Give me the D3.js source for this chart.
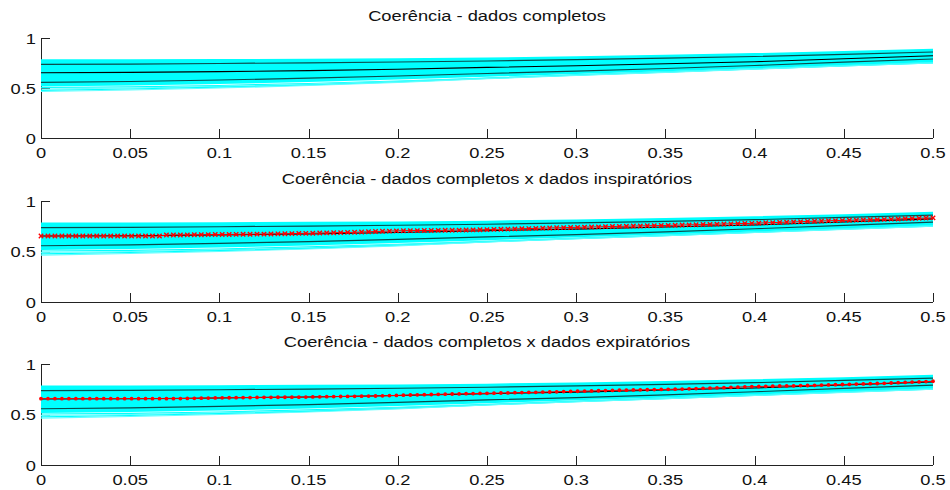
<!DOCTYPE html>
<html>
<head>
<meta charset="utf-8">
<script src="https://cdn.jsdelivr.net/npm/d3@7"></script>
<style>
  html, body { margin: 0; padding: 0; background: #fff; }
  text { font-family: "Liberation Sans", Arial, Helvetica, sans-serif; fill: #111; }
</style>
</head>
<body>
<svg id="chart" width="950" height="490"></svg>
<script>
// Frequency grid for the coarse reference curves (0 to 0.5, step 0.05)
const freqCoarse = [0, 0.05, 0.1, 0.15, 0.2, 0.25, 0.3, 0.35, 0.4, 0.45, 0.5];

// Surrogate coherence spread (cyan band): upper and lower envelope
const surrogateTop    = [0.780, 0.780, 0.782, 0.786, 0.790, 0.798, 0.810, 0.825, 0.842, 0.862, 0.885];
const surrogateBottom = [0.515, 0.525, 0.540, 0.560, 0.585, 0.612, 0.640, 0.668, 0.698, 0.728, 0.758];
// Individual low-lying surrogate curves
const surrogateLow1 = [0.505, 0.512, 0.525, 0.545, 0.570, 0.600, 0.632, 0.662, 0.694, 0.726, 0.756];
const surrogateLow2 = [0.490, 0.500, 0.516, 0.537, 0.565, 0.598, 0.630, 0.660, 0.692, 0.724, 0.754];
const surrogateLow3 = [0.476, 0.490, 0.508, 0.530, 0.560, 0.596, 0.628, 0.658, 0.690, 0.722, 0.752];
const surrogateLow4 = [0.465, 0.480, 0.500, 0.525, 0.556, 0.594, 0.626, 0.656, 0.688, 0.720, 0.750];

// Surrogate statistics (black lines): mean and mean ± one standard deviation
const statUpper  = [0.737, 0.739, 0.745, 0.752, 0.760, 0.770, 0.783, 0.798, 0.815, 0.837, 0.860];
const statMean   = [0.653, 0.656, 0.664, 0.674, 0.688, 0.706, 0.722, 0.742, 0.763, 0.792, 0.823];
const statLower  = [0.557, 0.565, 0.580, 0.598, 0.620, 0.645, 0.668, 0.695, 0.725, 0.758, 0.790];

// Coherence of the phase-specific data, 129 frequency bins (step 1/256)
const cohInspiratory = [
  0.653,0.653,0.653,0.653,0.653,0.653,0.653,0.653,0.653,0.653,0.653,0.653,0.653,0.653,0.653,0.653,0.653,0.653,
  0.663,0.664,0.664,0.665,0.666,0.666,0.667,0.668,
  0.669,0.669,0.670,0.671,0.671,0.672,0.672,0.673,
  0.675,0.676,0.677,0.679,0.680,
  0.681,0.683,0.684,0.686,0.687,0.689,0.690,
  0.693,0.695,0.698,0.700,
  0.702,0.704,0.706,
  0.707,0.707,0.708,0.708,0.709,
  0.710,0.711,0.712,0.713,0.714,0.715,0.717,
  0.719,0.720,0.722,0.724,0.726,0.727,0.729,0.731,0.733,
  0.735,0.736,0.738,0.739,0.741,0.743,0.744,0.746,0.747,0.749,
  0.750,0.752,0.753,0.755,0.756,0.757,0.759,0.760,0.762,
  0.764,0.765,0.767,0.769,0.771,0.772,0.774,0.776,0.777,0.779,
  0.781,0.784,0.786,0.788,0.791,0.793,0.795,0.798,0.800,
  0.802,0.804,0.806,0.808,0.809,0.811,0.813,0.815,0.816,0.818,
  0.820,0.822,0.825,0.827,0.829,0.831,0.833
];
const cohExpiratory = [
  0.657,0.657,0.657,0.657,0.657,0.657,0.657,0.657,0.657,0.657,0.657,0.657,0.657,0.657,0.657,0.657,0.657,0.657,0.657,0.657,
  0.658,0.659,0.660,0.662,0.663,0.664,0.665,0.666,0.667,
  0.668,0.668,0.669,0.670,0.670,0.671,0.671,0.672,0.672,0.673,
  0.674,0.675,0.676,0.677,0.678,0.679,0.680,0.681,0.682,0.683,
  0.685,0.687,0.689,0.691,0.693,0.695,0.696,0.698,0.700,
  0.701,0.703,0.704,0.706,0.707,0.709,0.710,
  0.711,0.713,0.714,0.716,0.717,0.719,0.720,0.722,0.723,
  0.725,0.727,0.728,0.730,0.732,0.733,0.735,0.737,0.738,0.740,
  0.741,0.743,0.744,0.745,0.747,0.748,0.749,0.751,0.752,
  0.754,0.757,0.759,0.762,0.764,0.766,0.769,0.771,0.774,0.776,
  0.777,0.779,0.780,0.782,0.783,0.784,0.786,0.787,0.789,
  0.791,0.793,0.795,0.797,0.799,0.801,0.803,0.805,0.807,0.809,
  0.812,0.815,0.818,0.821,0.823,0.826,0.829
];

// Panel titles
const panelTitles = [
  "Coerência - dados completos",
  "Coerência - dados completos x dados inspiratórios",
  "Coerência - dados completos x dados expiratórios"
];

// Tick values and labels
const xTickValues = [0, 0.05, 0.1, 0.15, 0.2, 0.25, 0.3, 0.35, 0.4, 0.45, 0.5];
const xTickLabels = ["0", "0.05", "0.1", "0.15", "0.2", "0.25", "0.3", "0.35", "0.4", "0.45", "0.5"];
const yTickValues = [0, 0.5, 1];
const yTickLabels = ["0", "0.5", "1"];

// ---------- layout ----------
const svg = d3.select("#chart");
const panelBoxes = [
  { top: 38, bottom: 138 },
  { top: 201, bottom: 302 },
  { top: 364, bottom: 465 }
];
const xLeft = 41, xRight = 933;
const tickLen = 9;
const fontSize = 15.5, stretch = 1.18;

const x = d3.scaleLinear().domain([0, 0.5]).range([xLeft, xRight]);
const freqFine = d3.range(cohInspiratory.length).map(i => i / 256);

const panelData = [
  { red: null, marker: null },
  { red: cohInspiratory, marker: "x" },
  { red: cohExpiratory, marker: "dot" }
];

function stretchedText(g, tx, ty, str, anchor, size) {
  g.append("text")
    .attr("transform", `translate(${tx},${ty}) scale(${stretch},1)`)
    .attr("text-anchor", anchor)
    .style("font-size", (size || fontSize) + "px")
    .text(str);
}

panelBoxes.forEach((box, p) => {
  const y = d3.scaleLinear().domain([0, 1]).range([box.bottom, box.top]);
  const g = svg.append("g");

  // axes (drawn beneath the data)
  const axisCol = "#222";
  g.append("line").attr("x1", xLeft).attr("x2", xRight)
    .attr("y1", box.bottom + 0.5).attr("y2", box.bottom + 0.5)
    .attr("stroke", axisCol).attr("stroke-width", 1);
  g.append("line").attr("x1", xLeft + 0.5).attr("x2", xLeft + 0.5)
    .attr("y1", box.top).attr("y2", box.bottom)
    .attr("stroke", axisCol).attr("stroke-width", 1);

  xTickValues.forEach((v, i) => {
    const px = Math.round(x(v)) + 0.5;
    g.append("line").attr("x1", px).attr("x2", px)
      .attr("y1", box.bottom).attr("y2", box.bottom - tickLen)
      .attr("stroke", axisCol).attr("stroke-width", 1);
    stretchedText(g, x(v), box.bottom + 20, xTickLabels[i], "middle");
  });
  yTickValues.forEach((v, i) => {
    const py = Math.round(y(v)) + 0.5;
    g.append("line").attr("x1", xLeft).attr("x2", xLeft + tickLen)
      .attr("y1", py).attr("y2", py)
      .attr("stroke", axisCol).attr("stroke-width", 1);
    stretchedText(g, 36, y(v) + 5.5, yTickLabels[i], "end");
  });

  // surrogate band
  const area = d3.area()
    .x((d, i) => x(freqCoarse[i]))
    .y0((d, i) => y(surrogateBottom[i]))
    .y1(d => y(d));
  g.append("path").datum(surrogateTop).attr("d", area).attr("fill", "#00ffff");

  const line = d3.line().x((d, i) => x(freqCoarse[i])).y(d => y(d));
  [surrogateLow1, surrogateLow2, surrogateLow3, surrogateLow4].forEach((s, k) => {
    g.append("path").datum(s).attr("d", line)
      .attr("fill", "none").attr("stroke", k % 2 ? "#5fffff" : "#00ffff")
      .attr("stroke-width", 1.2);
  });
  g.append("path").datum(surrogateTop).attr("d", line)
    .attr("fill", "none").attr("stroke", "#00ffff").attr("stroke-width", 1.5);

  // surrogate statistics
  [statUpper, statLower].forEach(s => {
    g.append("path").datum(s).attr("d", line)
      .attr("fill", "none").attr("stroke", "#0b4c4c").attr("stroke-width", 1.2);
  });
  g.append("path").datum(statMean).attr("d", line)
    .attr("fill", "none").attr("stroke", "#000").attr("stroke-width", 1.1);

  // phase-specific coherence
  const pd = panelData[p];
  if (pd.red) {
    const fineLine = d3.line().x((d, i) => x(freqFine[i])).y(d => y(d));
    g.append("path").datum(pd.red).attr("d", fineLine)
      .attr("fill", "none").attr("stroke", "#ff0000").attr("stroke-width", 1);
    const pts = pd.red.map((v, i) => [x(freqFine[i]), y(v)]);
    if (pd.marker === "x") {
      const s = 2.2;
      g.append("path")
        .attr("d", pts.map(([a, b]) =>
          `M${a - s},${b - s}L${a + s},${b + s}M${a - s},${b + s}L${a + s},${b - s}`).join(""))
        .attr("fill", "none").attr("stroke", "#ff0000").attr("stroke-width", 1.4);
    } else {
      g.selectAll("circle.mk").data(pts).enter().append("circle")
        .attr("cx", d => d[0]).attr("cy", d => d[1]).attr("r", 1.9)
        .attr("fill", "#ff0000");
    }
  }

  // title
  stretchedText(g, (xLeft + xRight) / 2, box.top - 17, panelTitles[p], "middle");
});
</script>
</body>
</html>
